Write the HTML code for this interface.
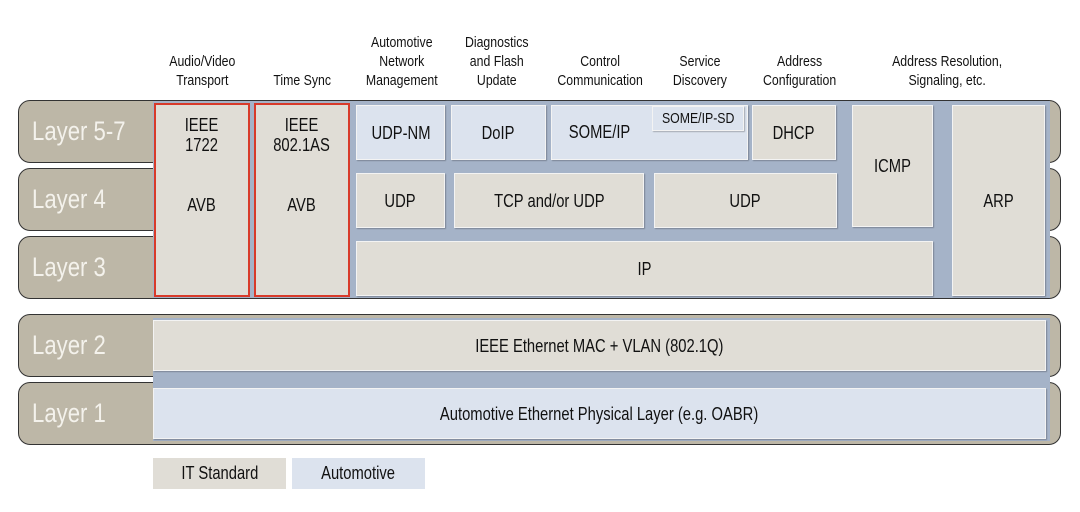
<!DOCTYPE html>
<html><head><meta charset="utf-8"><style>
body{margin:0;width:1080px;height:512px;background:#fff;position:relative;overflow:hidden;font-family:"Liberation Sans",sans-serif;color:#111}
div{position:absolute;box-sizing:border-box}
span{display:inline-block;transform:scaleX(.82);white-space:nowrap}
.band{left:18px;width:1043px;height:63px;background:#bdb7a7;border:1.5px solid #333;border-radius:12px}
.lab{left:20px;color:#f4f2ec;font-size:27px;line-height:63px}
.lab span{transform-origin:left center;margin-left:12px}
.blue{background:#a5b3c8}
.b{display:flex;align-items:center;justify-content:center;text-align:center;font-size:18px;line-height:20px;border:1.5px solid #f3f3f3;box-shadow:1px 1px 1px rgba(0,0,0,.25)}
.g{background:#e0ddd6}.a{background:#dce3ee}
.h{font-size:15px;line-height:19px;text-align:center;display:flex;align-items:flex-end;justify-content:center;top:30px;height:60px}
.r{border:2px solid #d83a2a;background:#e0ddd6;display:block;text-align:center;font-size:18px;line-height:20px;padding-top:10px}
</style></head><body>
<div class="h" style="left:150px;width:105px"><span>Audio/Video<br>Transport</span></div>
<div class="h" style="left:252px;width:100px"><span>Time Sync</span></div>
<div class="h" style="left:352px;width:100px"><span>Automotive<br>Network<br>Management</span></div>
<div class="h" style="left:447px;width:100px"><span>Diagnostics<br>and Flash<br>Update</span></div>
<div class="h" style="left:545px;width:110px"><span>Control<br>Communication</span></div>
<div class="h" style="left:655px;width:90px"><span>Service<br>Discovery</span></div>
<div class="h" style="left:750px;width:100px"><span>Address<br>Configuration</span></div>
<div class="h" style="left:860px;width:175px"><span>Address Resolution,<br>Signaling, etc.</span></div>

<div class="band" style="top:100px"></div>
<div class="band" style="top:168px"></div>
<div class="band" style="top:236px"></div>
<div class="lab" style="top:100px"><span>Layer 5-7</span></div>
<div class="lab" style="top:168px"><span>Layer 4</span></div>
<div class="lab" style="top:236px"><span>Layer 3</span></div>
<div class="blue" style="left:153px;top:101px;width:897px;height:197px"></div>

<div class="r" style="left:154px;top:103px;width:96px;height:194px"><span>IEEE<br>1722<br><br><br>AVB</span></div>
<div class="r" style="left:254px;top:103px;width:96px;height:194px"><span>IEEE<br>802.1AS<br><br><br>AVB</span></div>
<div class="b a" style="left:356px;top:105px;width:89px;height:55px"><span>UDP-NM</span></div>
<div class="b a" style="left:451px;top:105px;width:95px;height:55px"><span>DoIP</span></div>
<div class="b a" style="left:551px;top:105px;width:197px;height:55px;justify-content:flex-start;align-items:flex-start;padding:16px 0 0 10px"><span>SOME/IP</span></div>
<div class="b a" style="left:652px;top:106px;width:92px;height:25px;font-size:15px"><span>SOME/IP-SD</span></div>
<div class="b g" style="left:752px;top:105px;width:84px;height:55px"><span>DHCP</span></div>
<div class="b g" style="left:852px;top:105px;width:81px;height:122px"><span>ICMP</span></div>
<div class="b g" style="left:952px;top:105px;width:93px;height:191px"><span>ARP</span></div>
<div class="b g" style="left:356px;top:173px;width:89px;height:55px"><span>UDP</span></div>
<div class="b g" style="left:454px;top:173px;width:190px;height:55px"><span>TCP and/or UDP</span></div>
<div class="b g" style="left:654px;top:173px;width:183px;height:55px"><span>UDP</span></div>
<div class="b g" style="left:356px;top:241px;width:577px;height:55px"><span>IP</span></div>

<div class="band" style="top:314px"></div>
<div class="band" style="top:382px"></div>
<div class="lab" style="top:314px"><span>Layer 2</span></div>
<div class="lab" style="top:382px"><span>Layer 1</span></div>
<div class="blue" style="left:153px;top:318px;width:897px;height:123px"></div>
<div class="b g" style="left:153px;top:320px;width:893px;height:51px"><span>IEEE Ethernet MAC + VLAN (802.1Q)</span></div>
<div class="b a" style="left:153px;top:388px;width:893px;height:51px"><span>Automotive Ethernet Physical Layer (e.g. OABR)</span></div>

<div class="g" style="left:153px;top:458px;width:133px;height:31px;display:flex;align-items:center;justify-content:center;font-size:18px"><span>IT Standard</span></div>
<div class="a" style="left:292px;top:458px;width:133px;height:31px;display:flex;align-items:center;justify-content:center;font-size:18px"><span>Automotive</span></div>
</body></html>
